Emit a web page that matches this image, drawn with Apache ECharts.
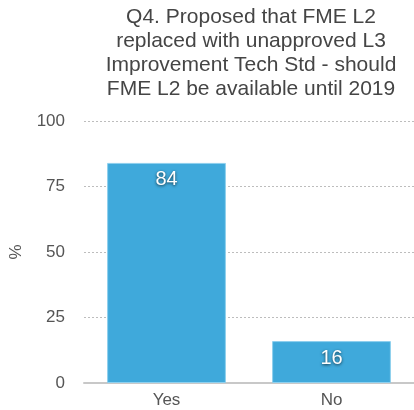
<!DOCTYPE html>
<html><head><meta charset="utf-8">
<script src="https://cdn.jsdelivr.net/npm/echarts@6/dist/echarts.min.js"></script>
<style>html,body{margin:0;padding:0;background:#fff}#c{width:414px;height:410px}</style>
</head><body><div id="c"></div>
<script>
const categories = ["Yes", "No"];
const values = [84, 16];
const yTicks = [0, 25, 50, 75, 100];
const titleText = "Q4. Proposed that FME L2\nreplaced with unapproved L3\nImprovement Tech Std - should\nFME L2 be available until 2019";

const chart = echarts.init(document.getElementById('c'), null, {renderer: 'canvas'});
chart.setOption({
  animation: false,
  textStyle: {fontFamily: 'Liberation Sans, Arial, sans-serif'},
  title: {
    text: titleText, left: 246, top: 0, textAlign: 'center',
    textStyle: {fontSize: 21, lineHeight: 24, fontWeight: 'normal', color: '#454545', fontFamily: 'Liberation Sans, Arial, sans-serif'}
  },
  grid: {left: 83, right: 0, top: 121, bottom: 27, containLabel: false},
  xAxis: {
    type: 'category', data: categories,
    axisLine: {show: true, lineStyle: {color: '#c8c8c8', width: 2}},
    axisTick: {show: false},
    axisLabel: {color: '#555', fontSize: 17, margin: 9}
  },
  yAxis: {
    type: 'value', min: yTicks[0], max: yTicks[yTicks.length - 1], interval: 25,
    name: '%', nameLocation: 'middle', nameGap: 59, nameRotate: 90,
    nameTextStyle: {color: '#555', fontSize: 17},
    axisLine: {show: false}, axisTick: {show: false},
    axisLabel: {color: '#555', fontSize: 17, margin: 19},
    splitLine: {lineStyle: {color: '#bdbdbd', type: [2, 2], width: 1}}
  },
  series: [{
    type: 'bar', data: values, barCategoryGap: '28%',
    itemStyle: {color: '#3FA9DB', borderColor: '#8fd0ee', borderWidth: 1},
    label: {
      show: true, position: 'insideTop', distance: 7,
      color: '#fff', fontSize: 20,
      textShadowColor: 'rgba(0,0,0,0.7)', textShadowBlur: 3, textShadowOffsetY: 1
    }
  }]
});
</script></body></html>
